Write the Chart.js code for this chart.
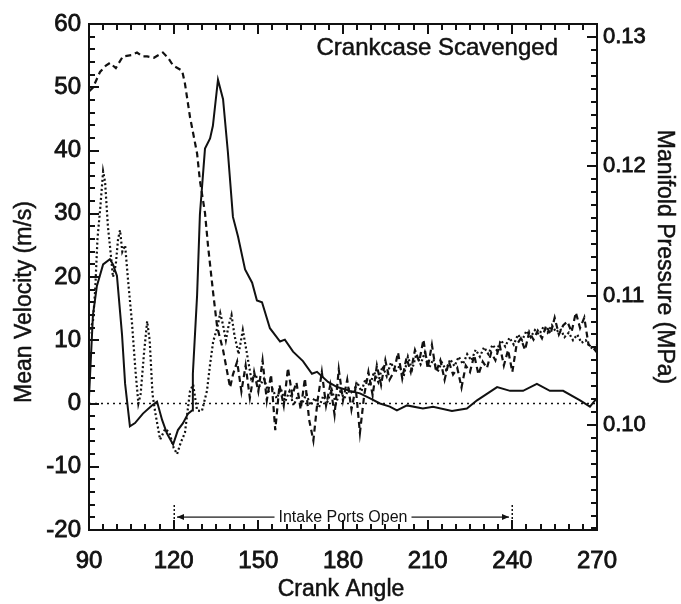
<!DOCTYPE html>
<html>
<head>
<meta charset="utf-8">
<title>Crankcase Scavenged</title>
<script src="https://cdn.jsdelivr.net/npm/chart.js@4.4.0/dist/chart.umd.min.js"></script>
<style>
  html, body { margin: 0; padding: 0; background: #fff; }
  canvas { display: block; }
</style>
</head>
<body>
<canvas id="scavengeChart" width="681" height="604"></canvas>
<script>
// Mean velocity, solid trace (m/s)
const solidAngle = [90, 91.4, 92.8, 95, 97.4, 98.5, 99.9, 101.7, 102.8, 104.5, 106.3, 109.1, 112.3, 114.1,
    115.9, 117.6, 119.8, 121.5, 123.3, 125.1, 126.5, 126.8, 128.3, 129.3, 131.1, 132.9, 133.9, 135.7,
    137.5, 139.2, 141, 142.8, 145.3, 147.8, 149.5, 151.3, 154.1, 157.7, 159.4, 162.3, 165.8, 169, 170.8,
    174.7, 177.9, 182.5, 186, 189.6, 193.1, 196.6, 199.1, 202.7, 208.3, 211.9, 218.6, 223.9, 227.5,
    234.6, 239.2, 243.8, 248.7, 253.3, 258, 264, 267.5, 269.3, 270];
const solidVel = [1, 14, 18.6, 22, 22.8, 22, 20.2, 10.9, 3.1, -3.6, -3.1, -1.6, -0.3, 0.3,
    -2.6, -4.7, -6.5, -4.2, -3.1, -1.6, -1.1, 4.7, 17.1, 29.9, 40.3, 41.9, 43.9, 51.2,
    48.1, 39.8, 29.5, 26.4, 21.2, 19.1, 16.3, 16, 11.9, 9.8, 10.1, 8.2, 6.7, 4.7, 5,
    3.4, 2.6, 2, 1.6, 0.8, 0, -0.5, -1.1, -0.3, -0.8, -0.5, -1.2, -0.8, 0.5,
    2.6, 2, 2, 3.1, 2, 2, 0.5, -0.5, 0.5, 0.8];

// Second velocity trace, dotted (m/s)
const dottedAngle = [90, 91.4, 92.2, 93, 94, 95, 95.7, 96.7, 97.4, 98.5, 99.5, 100.3, 101, 101.8, 102.8,
    103.8, 105.2, 106.5, 107.5, 108.3, 109.5, 110.6, 111.5, 112.5, 113.5, 115.2, 117, 118.5, 120, 121.2,
    122.5, 124, 125.8, 126.9, 128.3, 130, 131.8, 132.9, 134, 135.4, 136.5, 137.5, 138.5, 139.5, 140.5,
    141.5, 143, 144.5, 146, 147.5, 149, 150.5, 152, 153.5, 155, 156.5, 158, 159.5, 161, 162.5, 164,
    165.5, 167, 168.5, 170, 171.5, 173, 174.5, 176, 177.5, 179, 180.5, 182, 183.5, 185, 186.5, 188,
    189.5, 191, 192.5, 194, 195.5, 197, 198.5, 200, 201.5, 203, 204.5, 206, 207.5, 209, 210.5, 212,
    213.5, 215, 216.5, 218, 219.5, 221, 222.5, 224, 225.5, 227, 228.5, 230, 231.5, 233, 234.5, 236,
    237.5, 239, 240.5, 242, 243.5, 245, 246.5, 248, 249.5, 251, 252.5, 254, 255.5, 257, 258.5, 260,
    261.5, 263, 264.5, 266, 267.5, 269, 270];
const dottedVel = [11, 13, 18, 26, 31, 36.7, 35, 28, 25, 20, 22, 26, 27.4, 24, 25,
    19.7, 12.9, 5, 0, 1.5, 8, 13, 10, 1.5, -1.5, -5.7, -4, -4.6, -7, -8,
    -6.2, -4.6, 2, 3, -1.1, -1.2, 2, 6.2, 9.8, 11.9, 14.3, 12.4, 10, 12.4, 14,
    10.9, 7.8, 11.6, 7.8, 3.9, 4.6, 2.8, 3.9, 1.9, 2.3, 0.8, 2.3, 0.3, 1.9, -0.3, 1.2,
    0, 1.5, -0.3, 0.9, -0.6, 1.2, 0.3, 2.2, 0, 1.9, 0.8, 2.3, 1.5, 3.4, 1.9, 3.9,
    2.8, 5, 3.4, 5.9, 4.3, 6.5, 5, 5.9, 4.3, 7.4, 5.4, 7.8, 6.2, 8.1, 5.6, 7,
    5, 6.5, 5.3, 7, 5.9, 7.4, 6.2, 7.8, 6.8, 8.5, 7.4, 8.9, 7.8, 9.3, 8.4, 10,
    9, 10.4, 9.3, 10.9, 10, 11.5, 10.5, 11.6, 10.9, 12.1, 11.2, 12.4, 11.3, 11.8, 10.5, 11.2,
    10, 10.9, 9.6, 10, 9, 8.5, 9.3];

// Manifold pressure, dashed trace (MPa)
const pressAngle = [90, 91.4, 93.9, 96, 97.4, 99.5, 102, 105, 107, 109, 110.6, 113, 116.2, 118, 119.8,
    123, 124, 125.8, 128.3, 129.3, 131.1, 132.2, 134, 135.4, 137.5, 140, 141, 142.5, 144, 145.5, 147,
    148.5, 150, 151.5, 153, 154.5, 156, 157.5, 159, 160.5, 162, 163.5, 165, 166.5, 168, 169.5, 171,
    172.5, 174, 175.5, 177, 178.5, 180, 181.5, 183, 184.5, 186, 187.5, 189, 190.5, 192, 193.5, 195,
    196.5, 198, 199.5, 201, 202.5, 204, 205.5, 207, 208.5, 210, 211.5, 213, 214.5, 216, 217.5, 219,
    220.5, 222, 223.5, 225, 226.5, 228, 229.5, 231, 232.5, 234, 235.5, 237, 238.5, 240, 241.5, 243,
    244.5, 246, 247.5, 249, 250.5, 252, 253.5, 255, 256.5, 258, 259.5, 261, 262.5, 264, 265.5, 267,
    268.5, 270];
const pressMPa = [0.1258, 0.1261, 0.1273, 0.1278, 0.1280, 0.1276, 0.1285, 0.1286, 0.1288, 0.1285, 0.1285,
    0.1284, 0.1288, 0.1284, 0.1278, 0.1274, 0.1264, 0.1238, 0.1210, 0.1189, 0.1164, 0.1138, 0.1102,
    0.1076, 0.1058, 0.1029, 0.1039, 0.1049, 0.1026, 0.1046, 0.1021, 0.1041, 0.1026, 0.1050, 0.1019,
    0.1039, 0.0996, 0.1031, 0.1015, 0.1044, 0.1023, 0.1033, 0.1012, 0.1036, 0.1004, 0.0988, 0.1019,
    0.1041, 0.1015, 0.1031, 0.1008, 0.1043, 0.1019, 0.1035, 0.1012, 0.1029, 0.0994, 0.1023, 0.1041,
    0.1023, 0.1046, 0.1031, 0.1050, 0.1035, 0.1041, 0.1056, 0.1036, 0.1052, 0.1041, 0.1058, 0.1049,
    0.1066, 0.1044, 0.1062, 0.1041, 0.1050, 0.1035, 0.1049, 0.1039, 0.1044, 0.1029, 0.1046, 0.1041,
    0.1054, 0.1039, 0.1049, 0.1044, 0.1056, 0.1050, 0.1062, 0.1046, 0.1058, 0.1041, 0.1062, 0.1067,
    0.1058, 0.1072, 0.1066, 0.1073, 0.1067, 0.1077, 0.1070, 0.1083, 0.1070, 0.1077, 0.1080, 0.1072,
    0.1087, 0.1075, 0.1083, 0.1062, 0.1060, 0.1056];

// Zero reference and axis ticks
const zeroAngle = [90, 270];
const zeroVel = [0, 0];
const angleTicks = [90, 120, 150, 180, 210, 240, 270];
const velTicks = [-20, -10, 0, 10, 20, 30, 40, 50, 60];
const pressTicks = [0.10, 0.11, 0.12, 0.13];
const portsOpen = [120, 240];

const toPoints = (xs, ys) => xs.map((x, i) => ({ x: x, y: ys[i] }));

const INK = '#111';
const FONT = '"Liberation Sans", Arial, Helvetica, sans-serif';

// fills text with a thin outline so it reads as heavy as the printed labels
const heavyText = (ctx, text, x, y, w) => {
    ctx.lineWidth = w;
    ctx.strokeText(text, x, y);
    ctx.fillText(text, x, y);
};

/* Frame, inward tick marks, titles and the intake ports annotation */
const frameDecor = {
    id: 'frameDecor',
    afterDraw(chart) {
        const { ctx, chartArea: a, scales } = chart;
        const xs = scales.x, ys = scales.y, ps = scales.y2;
        const L = Math.round(a.left), R = Math.round(a.right);
        const T = Math.round(a.top), B = Math.round(a.bottom);

        ctx.save();
        ctx.setLineDash([]);
        ctx.strokeStyle = INK;
        ctx.fillStyle = INK;

        // box round the plot
        ctx.lineWidth = 2;
        ctx.strokeRect(L, T, R - L, B - T);

        // tick marks, pointing into the plot
        for (let v = 90; v <= 270; v += 5) {
            const px = Math.round(xs.getPixelForValue(v));
            const len = (v - 90) % 30 === 0 ? 10 : 6;
            ctx.fillRect(px - 1, B - len, 2, len);
            ctx.fillRect(px - 1, T, 2, len);
        }
        for (let v = -20; v <= 60; v += 2) {
            const py = Math.round(ys.getPixelForValue(v));
            const len = v % 10 === 0 ? 10 : 6;
            ctx.fillRect(L, py - 1, len, 2);
        }
        for (let k = 92; k <= 131; k++) {
            const py = Math.round(ps.getPixelForValue(k / 1000));
            const len = k % 10 === 0 ? 10 : 6;
            ctx.fillRect(R - len, py - 1, len, 2);
        }

        // axis titles
        ctx.textAlign = 'center';
        ctx.textBaseline = 'middle';
        ctx.font = '23px ' + FONT;
        ctx.save();
        ctx.translate(25, 302);
        ctx.rotate(-Math.PI / 2);
        heavyText(ctx, 'Mean Velocity (m/s)', 0, 0, 0.5);
        ctx.restore();

        ctx.save();
        ctx.translate(664, 257);
        ctx.rotate(Math.PI / 2);
        heavyText(ctx, 'Manifold Pressure (MPa)', 0, 0, 0.5);
        ctx.restore();

        heavyText(ctx, 'Crank Angle', (a.left + a.right) / 2 - 2, 590, 0.5);

        // label in the upper right corner
        ctx.textAlign = 'right';
        ctx.font = '24px ' + FONT;
        heavyText(ctx, 'Crankcase Scavenged', 558, 48, 0.5);

        // intake ports open: markers at 120 and 240 with arrows between them
        const x0 = Math.round(xs.getPixelForValue(portsOpen[0]));
        const x1 = Math.round(xs.getPixelForValue(portsOpen[1]));
        const yArrow = Math.round(ys.getPixelForValue(-18));
        const yTop = Math.round(ys.getPixelForValue(-16));
        for (let y = yTop; y < B; y += 4) {
            ctx.fillRect(x0 - 0.5, y, 1.5, 2);
            ctx.fillRect(x1 - 0.5, y, 1.5, 2);
        }

        ctx.font = '16px ' + FONT;
        ctx.textAlign = 'center';
        const label = 'Intake Ports Open';
        const mid = (x0 + x1) / 2;
        const half = ctx.measureText(label).width / 2;
        ctx.fillText(label, mid, yArrow + 1);

        ctx.fillRect(x0 + 3, yArrow - 0.5, mid - half - 7 - x0, 1.2);
        ctx.fillRect(mid + half + 4, yArrow - 0.5, x1 - 3 - (mid + half + 4), 1.2);
        ctx.beginPath();
        ctx.moveTo(x0 + 3, yArrow); ctx.lineTo(x0 + 10, yArrow - 3); ctx.lineTo(x0 + 10, yArrow + 3);
        ctx.closePath();
        ctx.moveTo(x1 - 3, yArrow); ctx.lineTo(x1 - 10, yArrow - 3); ctx.lineTo(x1 - 10, yArrow + 3);
        ctx.closePath();
        ctx.fill();

        ctx.restore();
    }
};

const init = () => {

    const data = {
        datasets: [{
            label: 'Zero',
            data: toPoints(zeroAngle, zeroVel),
            yAxisID: 'y',
            borderColor: INK,
            borderWidth: 1.5,
            borderDash: [2, 4]
        }, {
            label: 'Velocity (dotted)',
            data: toPoints(dottedAngle, dottedVel),
            yAxisID: 'y',
            borderColor: INK,
            borderWidth: 2.2,
            borderDash: [2, 2.5]
        }, {
            label: 'Manifold Pressure',
            data: toPoints(pressAngle, pressMPa),
            yAxisID: 'y2',
            borderColor: INK,
            borderWidth: 2.2,
            borderDash: [6, 4]
        }, {
            label: 'Mean Velocity',
            data: toPoints(solidAngle, solidVel),
            yAxisID: 'y',
            borderColor: INK,
            borderWidth: 2
        }]
    };

    const tickOpts = (size, pad) => ({
        font: { family: FONT, size: size },
        color: INK,
        padding: pad,
        textStrokeColor: INK,
        textStrokeWidth: 0.8
    });

    const config = {
        type: 'line',
        data: data,
        options: {
            responsive: false,
            animation: false,
            devicePixelRatio: 1,
            layout: { padding: { top: 24, left: 0, right: 0, bottom: 0 } },
            elements: {
                point: { radius: 0 },
                line: { tension: 0, fill: false }
            },
            plugins: {
                legend: { display: false },
                tooltip: { enabled: false }
            },
            scales: {
                x: {
                    type: 'linear',
                    position: 'bottom',
                    min: 90,
                    max: 270,
                    afterBuildTicks: (s) => { s.ticks = angleTicks.map(v => ({ value: v })); },
                    ticks: Object.assign(tickOpts(24, 17), { maxRotation: 0 }),
                    grid: { display: false, drawTicks: false },
                    border: { display: false },
                    afterFit: (s) => { s.height = 74; }
                },
                y: {
                    type: 'linear',
                    position: 'left',
                    min: -20,
                    max: 60,
                    afterBuildTicks: (s) => { s.ticks = velTicks.map(v => ({ value: v })); },
                    ticks: tickOpts(24, 8),
                    grid: { display: false, drawTicks: false },
                    border: { display: false },
                    afterFit: (s) => { s.width = 89; }
                },
                y2: {
                    type: 'linear',
                    position: 'right',
                    min: 0.09188,
                    max: 0.13101,
                    afterBuildTicks: (s) => { s.ticks = pressTicks.map(v => ({ value: v })); },
                    ticks: Object.assign(tickOpts(22, 6), { callback: (v) => v.toFixed(2) }),
                    grid: { display: false, drawTicks: false },
                    border: { display: false },
                    afterFit: (s) => { s.width = 84; }
                }
            }
        },
        plugins: [frameDecor]
    };

    const ctx = document.getElementById('scavengeChart').getContext('2d');
    const scavengeChart = new Chart(ctx, config);
}

document.addEventListener("DOMContentLoaded", () => {
    init();
});
</script>
</body>
</html>
